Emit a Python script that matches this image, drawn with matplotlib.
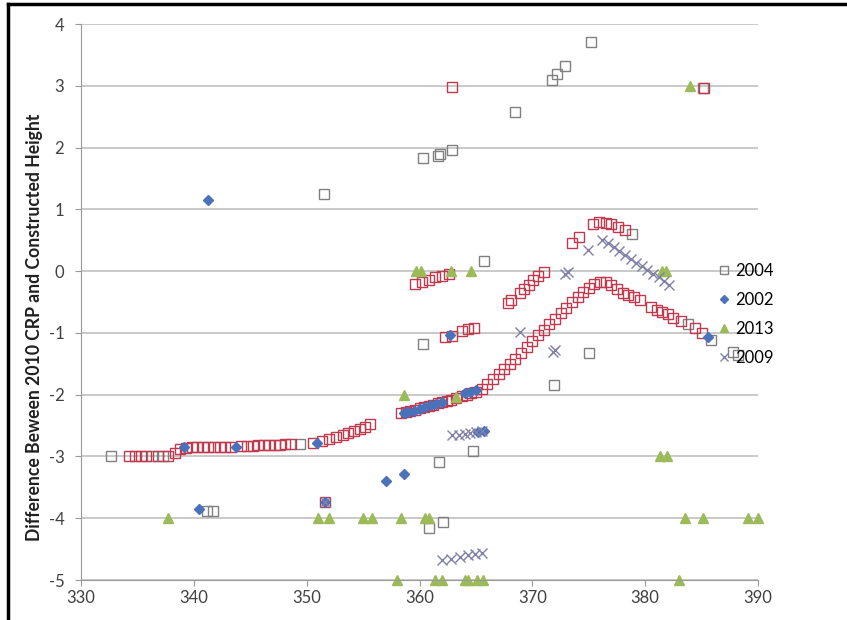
import matplotlib
matplotlib.use("Agg")
import matplotlib.pyplot as plt
from matplotlib.lines import Line2D

# 2004 - open grey squares
x_2004 = [332.7, 341.2, 341.7, 349.4, 351.5, 360.3, 361.6, 361.8, 362.9, 368.5,
          371.7, 372.2, 372.9, 375.2, 385.1, 365.7, 360.3, 371.9, 375.0, 361.7,
          364.7, 362.1, 360.8, 387.8, 388.2, 385.8, 336.3, 337.3, 378.8, 383.8]
y_2004 = [-2.99, -3.88, -3.88, -2.80, 1.25, 1.83, 1.87, 1.90, 1.96, 2.58,
          3.10, 3.20, 3.32, 3.71, 2.97, 0.16, -1.18, -1.84, -1.32, -3.09,
          -2.91, -4.06, -4.15, -1.31, -1.36, -1.12, -3.0, -3.0, 0.60, -0.86]

# red squares (second set of 2004 points, not in the legend)
x_red = [334.3, 334.8, 335.3, 335.8, 336.8, 337.7, 338.3, 338.8, 339.3, 339.8,
         340.3, 340.8, 341.3, 341.8, 342.3, 342.8, 343.3, 344.2, 344.7, 345.2,
         345.7, 346.2, 346.7, 347.2, 347.6, 348.1, 348.6, 350.6, 351.4, 352.0,
         352.6, 353.2, 353.7, 354.2, 354.7, 355.2, 355.6,
         358.4, 358.8, 359.2, 359.6, 360.0, 360.4, 360.8, 361.2, 361.6, 362.0,
         362.4, 362.8, 363.2, 363.8, 364.2, 364.6, 365.0, 365.5, 366.0, 366.5,
         367.0, 367.5, 368.0, 368.5, 369.0, 369.5, 370.0, 370.5, 371.0, 371.5,
         372.0, 372.5, 373.0, 373.5, 374.0, 374.5, 375.0, 375.5, 376.0, 376.5,
         377.0, 377.5, 378.0, 378.5, 379.0, 379.5, 380.5, 381.0, 381.5, 382.0,
         382.5, 383.2, 384.4, 385.0,
         359.6, 360.2, 360.8, 361.4, 362.0, 362.6,
         362.3, 362.9, 363.8, 364.3, 364.8,
         367.8, 368.1, 368.9, 369.3, 369.7, 370.1, 370.5, 371.0,
         373.5, 374.1, 375.4, 375.9, 376.5, 377.0, 377.6, 378.2,
         362.9, 385.2, 351.6]
y_red = [-3.0, -3.0, -3.0, -3.0, -3.0, -3.0, -2.95, -2.88, -2.86, -2.85,
         -2.85, -2.85, -2.85, -2.85, -2.84, -2.84, -2.84, -2.83, -2.83, -2.83,
         -2.82, -2.82, -2.82, -2.81, -2.81, -2.80, -2.80, -2.78, -2.75, -2.72,
         -2.69, -2.65, -2.62, -2.59, -2.56, -2.52, -2.48,
         -2.30, -2.28, -2.26, -2.24, -2.22, -2.20, -2.18, -2.16, -2.14, -2.12,
         -2.10, -2.08, -2.05, -2.02, -2.00, -1.97, -1.95, -1.90, -1.83, -1.75,
         -1.67, -1.58, -1.50, -1.42, -1.32, -1.23, -1.13, -1.04, -0.95, -0.86,
         -0.77, -0.68, -0.60, -0.50, -0.42, -0.34, -0.27, -0.20, -0.18, -0.18,
         -0.22, -0.28, -0.35, -0.38, -0.42, -0.47, -0.58, -0.62, -0.66, -0.70,
         -0.75, -0.80, -0.92, -1.00,
         -0.21, -0.18, -0.14, -0.10, -0.08, -0.05,
         -1.07, -1.05, -0.96, -0.93, -0.92,
         -0.52, -0.47, -0.35, -0.28, -0.22, -0.15, -0.07, -0.02,
         0.45, 0.55, 0.77, 0.80, 0.78, 0.76, 0.72, 0.66,
         2.98, 2.97, -3.74]

# 2002 - blue diamonds
x_2002 = [341.3, 340.5, 339.1, 343.7, 350.9, 351.6, 357.0, 358.6, 362.7, 365.2,
          365.7, 385.6, 358.6, 359.0, 359.5, 360.0, 360.5, 361.0, 361.5, 362.0,
          364.0, 364.5, 365.0]
y_2002 = [1.15, -3.85, -2.85, -2.84, -2.78, -3.74, -3.40, -3.28, -1.04, -2.60,
          -2.58, -1.06, -2.30, -2.28, -2.26, -2.23, -2.20, -2.17, -2.15, -2.12,
          -1.97, -1.95, -1.93]

# 2013 - green triangles
x_2013 = [337.7, 351.0, 352.0, 355.0, 355.8, 358.4, 360.5, 360.8,
          358.0, 361.4, 362.0, 364.0, 364.3, 365.1, 365.6,
          358.6, 363.2, 359.7, 360.1, 362.8, 364.6, 381.5, 381.8,
          381.3, 381.9, 383.5, 385.1, 389.1, 390.0, 383.0, 384.0]
y_2013 = [-4.0, -4.0, -4.0, -4.0, -4.0, -4.0, -4.0, -4.0,
          -5.0, -5.0, -5.0, -5.0, -5.0, -5.0, -5.0,
          -2.0, -2.03, 0.0, 0.0, 0.0, 0.0, 0.0, 0.0,
          -3.0, -3.0, -4.0, -4.0, -4.0, -4.0, -5.0, 3.0]

# 2009 - grey crosses
x_2009 = [376.2, 376.7, 377.2, 377.7, 378.2, 378.7, 379.2, 379.7, 380.2, 380.7,
          381.2, 381.7, 382.1, 374.9, 372.9, 373.2, 368.9, 372.0, 371.8,
          362.9, 363.5, 364.0, 364.5, 365.0, 365.5,
          362.0, 362.8, 363.6, 364.3, 364.9, 365.5, 351.6]
y_2009 = [0.50, 0.45, 0.40, 0.33, 0.27, 0.20, 0.14, 0.08, 0.02, -0.04,
          -0.10, -0.16, -0.22, 0.34, -0.05, -0.02, -0.98, -1.27, -1.30,
          -2.65, -2.65, -2.63, -2.62, -2.60, -2.58,
          -4.68, -4.66, -4.63, -4.60, -4.58, -4.56, -3.73]

y_ticks = [-5, -4, -3, -2, -1, 0, 1, 2, 3, 4]
x_ticks = [330, 340, 350, 360, 370, 380, 390]

plt.rcParams['font.family'] = ['Lato', 'DejaVu Sans']
plt.rcParams['axes.unicode_minus'] = False

fig = plt.figure(figsize=(8.47, 6.2), dpi=100)
ax = fig.add_axes([0.0956, 0.0645, 0.7994, 0.8965])

ax.plot(x_2004, y_2004, 's', ms=7, mfc='none', mec='#808080', mew=1.0,
        label='2004', clip_on=False)
ax.plot(x_red, y_red, 's', ms=7, mfc='none', mec='#c0394d', mew=1.0,
        clip_on=False)
ax.plot(x_2002, y_2002, 'D', ms=5, mfc='#4a72bb', mec='#4a72bb',
        label='2002', clip_on=False)
ax.plot(x_2013, y_2013, '^', ms=6.5, mfc='#9bbb59', mec='#9bbb59',
        label='2013', clip_on=False)
ax.plot(x_2009, y_2009, 'x', ms=7, mec='#8080a8', mew=1.0, label='2009',
        clip_on=False)

ax.set_xlim(330, 390)
ax.set_ylim(-5, 4)
ax.set_xticks(x_ticks)
ax.set_yticks(y_ticks)
ax.yaxis.grid(True, color='#c0c0c0', lw=1.2)
ax.set_axisbelow(True)
for side in ['top', 'right']:
    ax.spines[side].set_visible(False)
for side in ['left', 'bottom']:
    ax.spines[side].set_color('#999999')
ax.tick_params(axis='both', colors='#999999', labelcolor='#404040',
               labelsize=12, length=4, direction='out')
ax.tick_params(axis='y', pad=8)
ax.tick_params(axis='x', pad=3)
ax.set_ylabel('Difference Beween 2010 CRP and Constructed Height',
              fontsize=12.7, fontweight='bold', color='#202020')
ax.yaxis.set_label_coords(-0.056, 0.455)

# legend entries in the order shown on the chart
handles, labels = ax.get_legend_handles_labels()
fig.legend(handles, labels, loc='upper left', bbox_to_anchor=(0.825, 0.6),
           frameon=False, fontsize=12, handletextpad=0.1, labelspacing=0.78,
           handlelength=1.2, markerscale=0.85)

# dark frame of the original screenshot (top and left edges)
fig.add_artist(Line2D([0.009, 0.009], [0, 0.994], color='black', lw=2.5,
                      transform=fig.transFigure))
fig.add_artist(Line2D([0.009, 1.0], [0.994, 0.994], color='black', lw=2.5,
                      transform=fig.transFigure))

fig.savefig('out.png', dpi=100)
